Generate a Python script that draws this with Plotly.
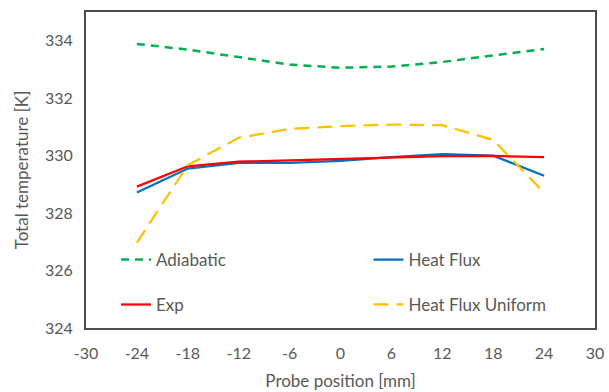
import plotly.graph_objects as go

# Probe positions [mm]
positions = [-24, -18, -12, -6, 0, 6, 12, 18, 24]

# Total temperature [K] per case
adiabatic = [333.89, 333.69, 333.43, 333.17, 333.06, 333.10, 333.26, 333.49, 333.71]
heat_flux = [328.72, 329.55, 329.75, 329.75, 329.82, 329.95, 330.05, 330.00, 329.30]
exp = [328.92, 329.63, 329.79, 329.84, 329.89, 329.95, 329.98, 329.99, 329.95]
heat_flux_uniform = [326.97, 329.67, 330.62, 330.93, 331.03, 331.08, 331.06, 330.55, 328.71]

x_ticks = [-30, -24, -18, -12, -6, 0, 6, 12, 18, 24, 30]
y_ticks = [324, 326, 328, 330, 332, 334]

FONT = "Lato, 'Open Sans', sans-serif"
GREY = "#595959"

fig = go.Figure()
fig.add_trace(go.Scatter(x=positions, y=adiabatic, name="Adiabatic", mode="lines",
                         line=dict(color="#00B050", width=2.5, dash="8px,6px"),
                         legend="legend"))
fig.add_trace(go.Scatter(x=positions, y=heat_flux, name="Heat Flux", mode="lines",
                         line=dict(color="#0070C0", width=2.25),
                         legend="legend2"))
fig.add_trace(go.Scatter(x=positions, y=exp, name="Exp", mode="lines",
                         line=dict(color="#FF0000", width=2.25),
                         legend="legend3"))
fig.add_trace(go.Scatter(x=positions, y=heat_flux_uniform, name="Heat Flux Uniform", mode="lines",
                         line=dict(color="#FFC000", width=2.25, dash="15px,8px"),
                         legend="legend4"))

# One legend per entry, laid out as a 2x2 key inside the plot area
legend_style = dict(xanchor="left", yanchor="middle",
                    bgcolor="rgba(0,0,0,0)",
                    font=dict(family=FONT, size=17, color=GREY))
col1, col2 = 0.059, 0.555
row1, row2 = 0.215, 0.073

fig.update_layout(
    width=609, height=392,
    margin=dict(l=86, r=14, t=12, b=64),
    paper_bgcolor="white", plot_bgcolor="white",
    font=dict(family=FONT, color=GREY),
    showlegend=True,
    legend=dict(x=col1, y=row1, **legend_style),
    legend2=dict(x=col2, y=row1, **legend_style),
    legend3=dict(x=col1, y=row2, **legend_style),
    legend4=dict(x=col2, y=row2, **legend_style),
    xaxis=dict(range=[-30, 30], tickvals=x_ticks, ticktext=[str(v) for v in x_ticks],
               showgrid=False, zeroline=False, showline=True, mirror=True,
               linecolor="#4d4d4d", linewidth=2, automargin=False,
               ticks="outside", ticklen=10, tickcolor="rgba(0,0,0,0)",
               tickfont=dict(family=FONT, size=16, color=GREY),
               title=dict(text="Probe position [mm]", font=dict(family=FONT, size=17, color=GREY),
                          standoff=14)),
    yaxis=dict(range=[324, 335], tickvals=y_ticks, ticktext=[str(v) for v in y_ticks],
               showgrid=False, zeroline=False, showline=True, mirror=True,
               linecolor="#4d4d4d", linewidth=2, automargin=False,
               ticks="outside", ticklen=8, tickcolor="rgba(0,0,0,0)",
               tickfont=dict(family=FONT, size=16, color=GREY),
               title=dict(text="Total temperature [K]", font=dict(family=FONT, size=17, color=GREY),
                          standoff=12)),
)

fig.write_html("out.html")
